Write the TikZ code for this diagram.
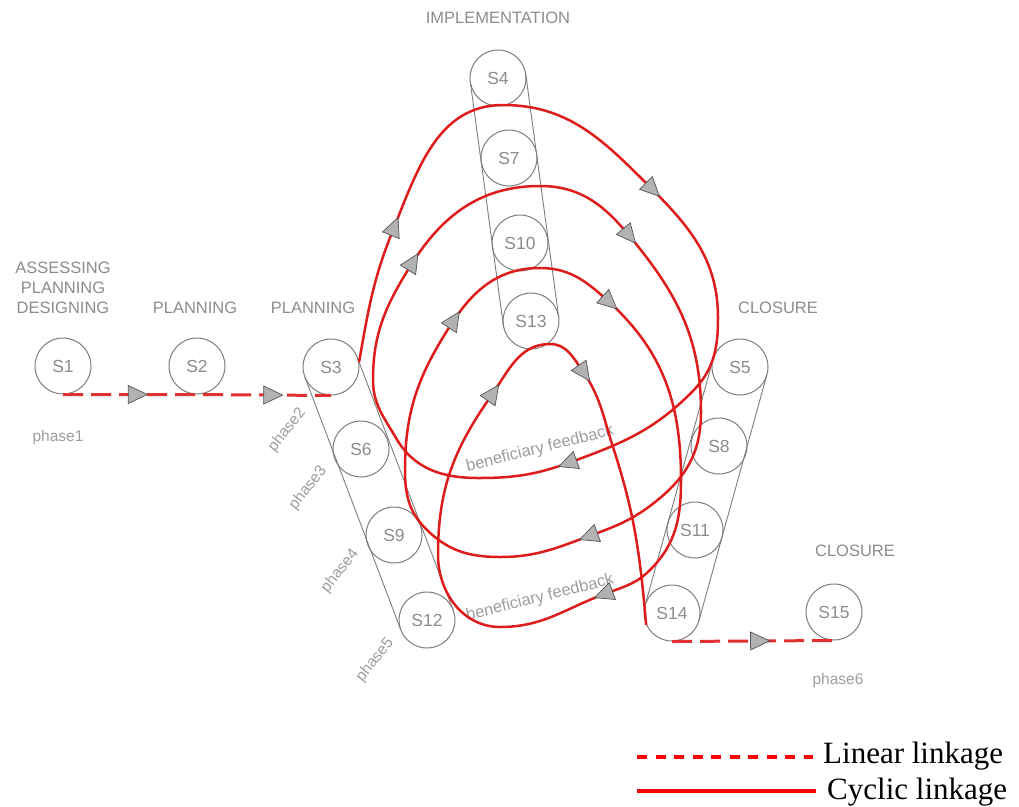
\documentclass[tikz,border=0pt]{standalone}
\usepackage{fontspec}
\setmainfont{Liberation Sans}
\newfontfamily\legendfont{Liberation Serif}
\usetikzlibrary{shapes.geometric,calc}

\definecolor{cycred}{RGB}{222,28,28}
\definecolor{linred}{RGB}{224,48,48}
\definecolor{stagegray}{RGB}{140,140,140}
\definecolor{ringgray}{RGB}{125,125,125}

\tikzset{
  station/.style={circle, draw=ringgray, line width=1pt, minimum size=56pt,
    inner sep=0pt, text=stagegray, font=\fontsize{17.5}{18}\selectfont},
  stage/.style={text=stagegray, font=\fontsize{16.5}{20}\selectfont,
    align=center, inner sep=0pt},
  phase/.style={text=stagegray!85, font=\fontsize{15.5}{16}\selectfont, inner sep=0pt},
  capsule/.style={draw=ringgray, line width=0.9pt},
  cyclic/.style={draw=cycred, line width=2.5pt},
  linear/.style={draw=linred, line width=3pt, dash pattern=on 20pt off 8pt},
  tipmark/.style={sloped, allow upside down, shape=isosceles triangle,
    isosceles triangle stretches, minimum height=19pt, minimum width=18pt,
    inner sep=0pt, solid, draw=gray!65!black, fill=gray!60, line width=0.7pt},
  legdash/.style={draw=red, line width=3.5pt, dash pattern=on 10pt off 8.5pt},
  legline/.style={draw=red, line width=4pt},
  legtext/.style={font=\legendfont\fontsize{31}{31}\selectfont, anchor=base west, inner sep=0pt},
}

\begin{document}
\begin{tikzpicture}[x=1pt,y=1pt]
\useasboundingbox (0,0) rectangle (1019,-806);

% stations
\foreach \n/\x/\y in {1/63/366, 2/197/366, 3/331/367, 6/361/449, 9/394/535,
    12/427/620, 4/498/78, 7/509/158, 10/520/243, 13/531/321, 5/740/367,
    8/719/446, 11/695/530, 14/672/613, 15/834/612}
  \node[station] (S\n) at (\x,-\y) {S\n};

% capsules round the columns
\foreach \a/\b in {S3/S12, S4/S13, S5/S14} {
  \draw[capsule] ($(\a)!28pt!90:(\b)$) -- ($(\b)!28pt!-90:(\a)$);
  \draw[capsule] ($(\a)!28pt!-90:(\b)$) -- ($(\b)!28pt!90:(\a)$);
}

% stage labels
\node[stage] (st1) at (63,-288) {ASSESSING\\PLANNING\\DESIGNING};
\node[stage] (st2) at (195,-308) {PLANNING};
\node[stage] (st3) at (313,-308) {PLANNING};
\node[stage] (st4) at (498,-18) {IMPLEMENTATION};
\node[stage] (st5) at (778,-308) {CLOSURE};
\node[stage] (st6) at (855,-551) {CLOSURE};

% phase labels
\node[phase] (ph1) at (58,-437) {phase1};
\node[phase,rotate=52] (ph2) at (287,-430) {phase2};
\node[phase,rotate=52] (ph3) at (308,-488) {phase3};
\node[phase,rotate=52] (ph4) at (340,-571) {phase4};
\node[phase,rotate=52] (ph5) at (375,-660) {phase5};
\node[phase] (ph6) at (838,-680) {phase6};
\node[phase,rotate=14,font=\fontsize{16.5}{17}\selectfont] (fb1) at (540,-449) {beneficiary feedback};
\node[phase,rotate=14,font=\fontsize{16.5}{17}\selectfont] (fb2) at (540,-598) {beneficiary feedback};

% linear linkage
\draw[linear] (S1.south) -- node[tipmark,pos=.53] {} (S2.south)
  -- node[tipmark,pos=.54] {} (S3.south);
\draw[linear] (S14.south) -- node[tipmark,pos=.52] {} (S15.south);

% cyclic linkage, one spiral from S3 to S14
\draw[cyclic] (S3.10)
  to[out=80,in=248] node[tipmark,pos=1] {} (393,-230)
  to[out=68,in=180] (503,-105)
  to[out=0,in=135] node[tipmark,pos=1] {} (650,-187)
  to[out=-45,in=90] (718,-318)
  to[out=-90,in=45] (692,-392)
  to[out=-135,in=20] node[tipmark,pos=1] {} (571,-462)
  to[out=200,in=0] (478,-478)
  to[out=180,in=-60] (396,-438)
  to[out=120,in=-90] (373,-380)
  % second turn
  to[out=90,in=238] node[tipmark,pos=1] {} (411,-265)
  to[out=58,in=180] (540,-186)
  to[out=0,in=130] node[tipmark,pos=1] {} (627,-233)
  to[out=-50,in=90] (701,-412)
  to[out=-90,in=40] (660,-498)
  to[out=220,in=20] node[tipmark,pos=1] {} (592,-535)
  to[out=200,in=0] (500,-557)
  to[out=180,in=-45] (426,-529)
  to[out=135,in=-90] (405,-470)
  % third turn
  to[out=90,in=237] node[tipmark,pos=1] {} (452,-323)
  to[out=57,in=180] (540,-268)
  to[out=0,in=138] node[tipmark,pos=1] {} (607,-300)
  to[out=-42,in=90] (681,-480)
  to[out=-90,in=45] (650,-570)
  to[out=-135,in=20] node[tipmark,pos=1] {} (607,-593)
  to[out=200,in=0] (500,-627)
  to[out=180,in=-90] (438,-555)
  % last turn
  to[out=90,in=235] node[tipmark,pos=1] {} (491,-396)
  to[out=55,in=180] (550,-344)
  to[out=0,in=125] node[tipmark,pos=1] {} (582,-370)
  to[out=-55,in=108] (613,-447)
  to[out=-72,in=95] (S14.205);

% legend
\node[legtext] (linlab) at (823,-763) {Linear linkage};
\node[legtext] (cyclab) at (827,-799) {Cyclic linkage};
\coordinate (linstart) at (637,-757);
\coordinate (cycstart) at (637,-791);
\draw[legdash] (linstart) -- ([xshift=-10pt]linlab.west |- linstart);
\draw[legline] (cycstart) -- ([xshift=-11pt]cyclab.west |- cycstart);
\end{tikzpicture}
\end{document}
